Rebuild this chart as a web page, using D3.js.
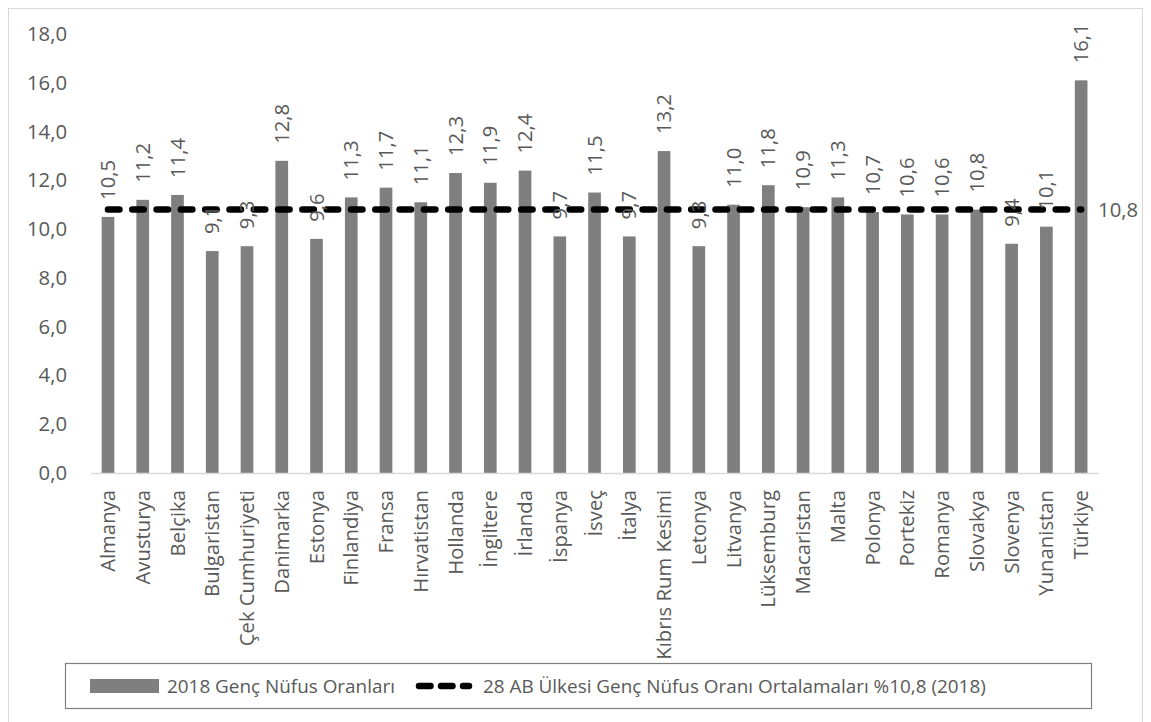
<!DOCTYPE html>
<html><head><meta charset="utf-8">
<script src="https://cdn.jsdelivr.net/npm/d3@7"></script>
<style>
html,body{margin:0;padding:0;background:#fff;}
text{font-family:"Open Sans",sans-serif;fill:#595959;}
</style></head>
<body><svg id="c" width="1151" height="722"></svg>
<script>
const categories = ["Almanya","Avusturya","Belçika","Bulgaristan","Çek Cumhuriyeti","Danimarka","Estonya","Finlandiya","Fransa","Hırvatistan","Hollanda","İngiltere","İrlanda","İspanya","İsveç","İtalya","Kıbrıs Rum Kesimi","Letonya","Litvanya","Lüksemburg","Macaristan","Malta","Polonya","Portekiz","Romanya","Slovakya","Slovenya","Yunanistan","Türkiye"];
const youthRates2018 = [10.5,11.2,11.4,9.1,9.3,12.8,9.6,11.3,11.7,11.1,12.3,11.9,12.4,9.7,11.5,9.7,13.2,9.3,11.0,11.8,10.9,11.3,10.7,10.6,10.6,10.8,9.4,10.1,16.1];
const euAverage = 10.8;
const yTicks = [0,2,4,6,8,10,12,14,16,18];
const seriesNames = ["2018 Genç Nüfus Oranları","28 AB Ülkesi Genç Nüfus Oranı Ortalamaları %10,8 (2018)"];

const fmt = v => v.toFixed(1).replace(".", ",");
const svg = d3.select("#c");
const FS = 20.3;
const LFS = 18.9;

// outer border
svg.append("rect").attr("x",8.5).attr("y",8.5).attr("width",1134).attr("height",720)
  .attr("fill","none").attr("stroke","#d9d9d9").attr("stroke-width",1);

const x = d3.scaleBand().domain(categories).range([90.6,1098.5]).paddingInner(0.635).paddingOuter(0.3175);
const y = d3.scaleLinear().domain([0,18]).range([473,34]);

// y axis labels
const yAxis = d3.axisLeft(y).tickValues(yTicks).tickFormat(fmt).tickSize(0).tickPadding(0);
const gy = svg.append("g").attr("transform","translate(67,0)").call(yAxis);
gy.select(".domain").remove();
gy.selectAll("text").attr("font-size",FS).attr("fill","#595959").attr("font-family","Open Sans");

// bars
svg.append("g").selectAll("rect").data(categories).join("rect")
  .attr("x",d=>x(d)).attr("width",x.bandwidth())
  .attr("y",(d,i)=>y(youthRates2018[i])).attr("height",(d,i)=>y(0)-y(youthRates2018[i]))
  .attr("fill","#7f7f7f");

// x axis
const xAxis = d3.axisBottom(x).tickSize(0).tickPadding(0);
const gx = svg.append("g").attr("transform",`translate(0,${y(0)})`).call(xAxis);
gx.select(".domain").attr("stroke","#d9d9d9").attr("stroke-width",1.5);
gx.selectAll("text").attr("font-size",FS).attr("fill","#595959").attr("font-family","Open Sans")
  .attr("text-anchor","end").attr("dy","0.35em")
  .attr("transform","translate(0,17) rotate(-90)").attr("x",0).attr("y",0);

// average line
const cx = d => x(d)+x.bandwidth()/2;
const line = d3.line().x(d=>cx(d)).y(()=>y(euAverage));
svg.append("path").datum(categories).attr("d",line)
  .attr("fill","none").attr("stroke","#000").attr("stroke-width",6.5)
  .attr("stroke-linecap","round").attr("stroke-dasharray","11.5,12.8");

// data labels
svg.append("g").selectAll("text").data(categories).join("text")
  .attr("transform",(d,i)=>`translate(${cx(d)},${y(youthRates2018[i])-17}) rotate(-90)`)
  .attr("dy","0.35em").attr("font-size",FS).attr("text-anchor","start")
  .text((d,i)=>fmt(youthRates2018[i]));

// average label
const last = categories[categories.length-1];
svg.append("text").attr("x",cx(last)+17).attr("y",y(euAverage)).attr("dy","0.35em")
  .attr("font-size",FS).text(fmt(euAverage));

// legend
const lg = svg.append("g");
lg.append("rect").attr("x",65.5).attr("y",663.5).attr("width",1026).attr("height",45)
  .attr("fill","#fff").attr("stroke","#7f7f7f").attr("stroke-width",1.2);
lg.append("rect").attr("x",90).attr("y",679).attr("width",69).attr("height",14).attr("fill","#7f7f7f");
lg.append("text").attr("x",167).attr("y",686).attr("dy","0.35em").attr("font-size",LFS).text(seriesNames[0]);
lg.append("line").attr("x1",419).attr("x2",469).attr("y1",686).attr("y2",686)
  .attr("stroke","#000").attr("stroke-width",6.5).attr("stroke-linecap","round").attr("stroke-dasharray","11.5,10.5");
lg.append("text").attr("x",483).attr("y",686).attr("dy","0.35em").attr("font-size",LFS).text(seriesNames[1]);
</script></body></html>
